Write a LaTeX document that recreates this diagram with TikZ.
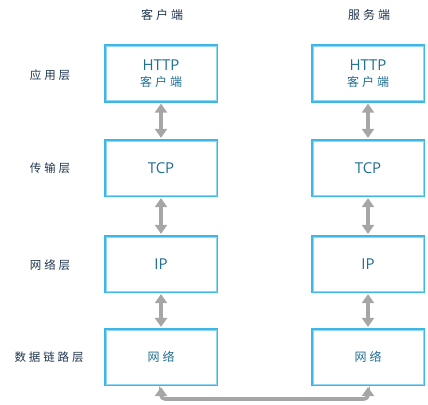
\documentclass[tikz,border=0pt]{standalone}
\usepackage{fontspec}
\setmainfont{Open Sans}
\newfontfamily\cjk{Noto Sans CJK SC}
\newfontfamily\cjkwide[LetterSpace=25]{Noto Sans CJK SC}
\usetikzlibrary{arrows.meta}
\definecolor{boxblue}{HTML}{3DB6E8}
\definecolor{boxtext}{HTML}{1F6F93}
\definecolor{labtext}{HTML}{1E3550}
\definecolor{arrgray}{HTML}{A6A6A6}
\tikzset{
  layerbox/.style={draw=boxblue, line width=2.2pt, minimum width=112pt, minimum height=56pt, inner sep=0pt, align=center, text=boxtext, font=\fontsize{15}{17}\selectfont},
  inner2/.style={draw=boxblue!55, line width=0.7pt},
  sidelabel/.style={text=labtext, font=\cjkwide\fontsize{11.5}{13}\selectfont},
  toplabel/.style={text=labtext, font=\cjkwide\fontsize{12}{14}\selectfont},
  biarrow/.style={draw=arrgray, line width=3.6pt, {Triangle[length=9pt,width=12pt]}-{Triangle[length=9pt,width=12pt]}, shorten <=1pt, shorten >=1pt},
}
\begin{document}
\begin{tikzpicture}[x=1pt,y=-1pt]
\useasboundingbox (0,0) rectangle (428,404);
% boxes
\foreach \n/\x in {c/161, s/368}{
  \node[layerbox] (\n1) at (\x,73.5) {HTTP\\[-1pt]{\cjkwide\fontsize{12}{14}\selectfont 客户端}};
  \node[layerbox] (\n2) at (\x,168) {TCP};
  \node[layerbox] (\n3) at (\x,264) {IP};
  \node[layerbox] (\n4) at (\x,357) {\cjkwide\fontsize{12}{14}\selectfont 网络};
}
\foreach \n in {c,s}{
  \foreach \i in {1,2,3,4}{
    \draw[inner2] ([xshift=2.2pt,yshift=-2.2pt]\n\i.north west) rectangle ([xshift=-2.2pt,yshift=2.2pt]\n\i.south east);
  }
}
% labels
\node[toplabel] (tc) at (162,15) {客户端};
\node[toplabel] (ts) at (369,15) {服务端};
\node[sidelabel] (l1) at (50,75) {应用层};
\node[sidelabel] (l2) at (50,168) {传输层};
\node[sidelabel] (l3) at (50,265) {网络层};
\node[sidelabel] (l4) at (49,357) {数据链路层};
% arrows
\foreach \n in {c,s}{
  \draw[biarrow] (\n1.south) -- (\n2.north);
  \draw[biarrow] (\n2.south) -- (\n3.north);
  \draw[biarrow] (\n3.south) -- (\n4.north);
}
\coordinate (bl) at (161,399);
\coordinate (br) at (368,399);
\draw[biarrow, rounded corners=4pt] (c4.south) -- (bl) -- (br) -- (s4.south);
\end{tikzpicture}
\end{document}
